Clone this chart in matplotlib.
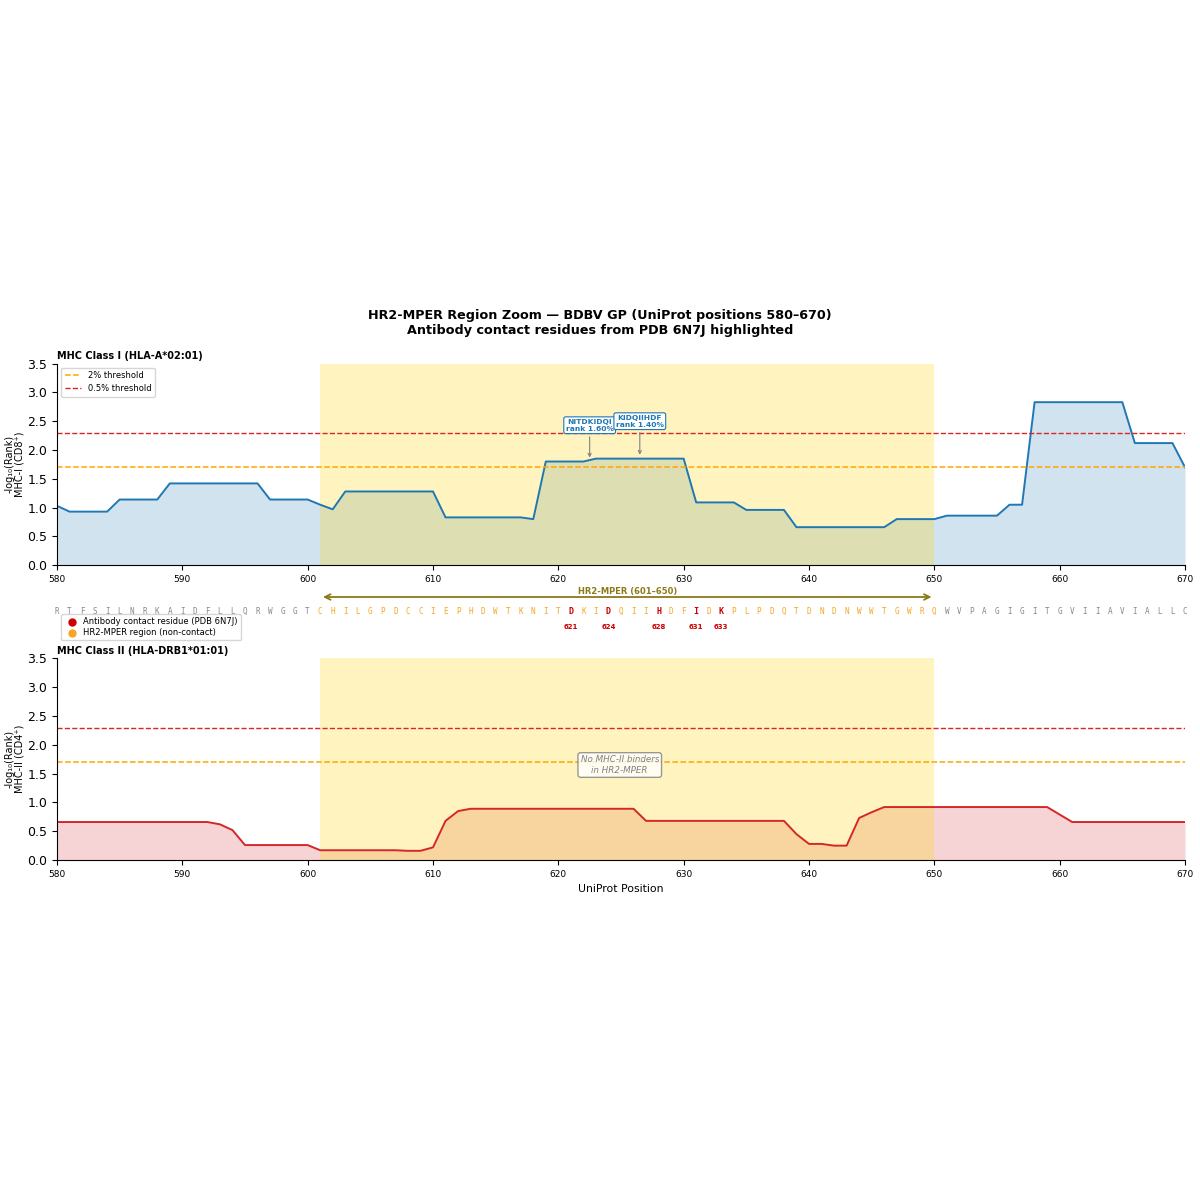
import numpy as np
import matplotlib.pyplot as plt

# positions and sequence
positions = np.arange(580, 671)
sequence = ("RTFSILNRKAIDFLLQRWGGT"
            "CHILGPDCCIEPHDWTKNITDKIDQIIHDFIDKPLPDQTDNDNWWTGWRQ"
            "WVPAGIGITGVIIAVIALLC")
contact_res = [621, 624, 628, 631, 633]
hr2_start, hr2_end = 601, 650

# -log10(rank) per position, MHC-I (HLA-A*02:01)
mhc1 = [1.03, 0.93, 0.93, 0.93, 0.93, 1.14, 1.14, 1.14, 1.14, 1.42,
        1.42, 1.42, 1.42, 1.42, 1.42, 1.42, 1.42, 1.14, 1.14, 1.14,
        1.14, 1.05, 0.97, 1.28, 1.28, 1.28, 1.28, 1.28, 1.28, 1.28,
        1.28, 0.83, 0.83, 0.83, 0.83, 0.83, 0.83, 0.83, 0.80, 1.80,
        1.80, 1.80, 1.80, 1.85, 1.85, 1.85, 1.85, 1.85, 1.85, 1.85,
        1.85, 1.09, 1.09, 1.09, 1.09, 0.96, 0.96, 0.96, 0.96, 0.66,
        0.66, 0.66, 0.66, 0.66, 0.66, 0.66, 0.66, 0.80, 0.80, 0.80,
        0.80, 0.86, 0.86, 0.86, 0.86, 0.86, 1.05, 1.05, 2.83, 2.83,
        2.83, 2.83, 2.83, 2.83, 2.83, 2.83, 2.12, 2.12, 2.12, 2.12,
        1.70]

# -log10(rank) per position, MHC-II (HLA-DRB1*01:01)
mhc2 = [0.66, 0.66, 0.66, 0.66, 0.66, 0.66, 0.66, 0.66, 0.66, 0.66,
        0.66, 0.66, 0.66, 0.62, 0.52, 0.26, 0.26, 0.26, 0.26, 0.26,
        0.26, 0.17, 0.17, 0.17, 0.17, 0.17, 0.17, 0.17, 0.16, 0.16,
        0.22, 0.68, 0.85, 0.89, 0.89, 0.89, 0.89, 0.89, 0.89, 0.89,
        0.89, 0.89, 0.89, 0.89, 0.89, 0.89, 0.89, 0.68, 0.68, 0.68,
        0.68, 0.68, 0.68, 0.68, 0.68, 0.68, 0.68, 0.68, 0.68, 0.45,
        0.28, 0.28, 0.25, 0.25, 0.73, 0.83, 0.92, 0.92, 0.92, 0.92,
        0.92, 0.92, 0.92, 0.92, 0.92, 0.92, 0.92, 0.92, 0.92, 0.92,
        0.79, 0.66, 0.66, 0.66, 0.66, 0.66, 0.66, 0.66, 0.66, 0.66,
        0.66]

# top binders to annotate
peptides = ["NITDKIDQI", "KIDQIIHDF"]
pep_ranks = [1.60, 1.40]
pep_starts = [618, 622]

thr_weak = -np.log10(0.02)
thr_strong = -np.log10(0.005)

fig = plt.figure(figsize=(12, 12), dpi=100)
ax1 = fig.add_axes([0.0475, 0.529, 0.94, 0.168])
axs = fig.add_axes([0.0475, 1 - 650 / 1200, 0.94, 70 / 1200])
ax2 = fig.add_axes([0.0475, 0.2833, 0.94, 0.168])

fig.text(0.5, 0.731, "HR2-MPER Region Zoom \u2014 BDBV GP (UniProt positions 580\u2013670)\n"
         "Antibody contact residues from PDB 6N7J highlighted",
         ha='center', va='center', fontsize=9.2, fontweight='bold')

for ax, vals, col, title, ylab in [
        (ax1, mhc1, '#1f77b4', "MHC Class I (HLA-A*02:01)", "-log\u2081\u2080(Rank)\nMHC-I (CD8\u207a)"),
        (ax2, mhc2, '#d62728', "MHC Class II (HLA-DRB1*01:01)", "-log\u2081\u2080(Rank)\nMHC-II (CD4\u207a)")]:
    ax.fill_between(positions, vals, color=col, alpha=0.2, lw=0)
    ax.axvspan(hr2_start, hr2_end, color='#FFD700', alpha=0.25, lw=0)
    ax.plot(positions, vals, color=col, lw=1.4)
    ax.axhline(thr_weak, color='orange', ls='--', lw=1.1, label='2% threshold')
    ax.axhline(thr_strong, color='#d62728', ls='--', lw=1.0, label='0.5% threshold')
    ax.set_xlim(580, 670)
    ax.set_ylim(0, 3.5)
    ax.set_title(title, loc='left', fontsize=7, fontweight='bold', pad=3)
    ax.set_ylabel(ylab, fontsize=7, labelpad=2, linespacing=1.0)
    ax.tick_params(axis='x', labelsize=6.5)
    ax.tick_params(axis='y', labelsize=9)
    ax.spines['top'].set_visible(False)
    ax.spines['right'].set_visible(False)

ax1.legend(loc='upper left', fontsize=6)
ax2.set_xlabel("UniProt Position", fontsize=7.8)

# peptide annotations
text_y = [2.43, 2.50]
for pep, rk, st, ty in zip(peptides, pep_ranks, pep_starts, text_y):
    cx = st + 4.5
    ax1.annotate(f"{pep}\nrank {rk:.2f}%", xy=(cx, mhc1[st + 4 - 580] + 0.02), xytext=(cx, ty),
                 ha='center', va='center', fontsize=5.4, fontweight='bold', color='#1f77b4',
                 bbox=dict(boxstyle='round,pad=0.25', fc='white', ec='#1f77b4', lw=0.8),
                 arrowprops=dict(arrowstyle='->', color='gray', lw=0.8))

ax2.text(624.9, 1.65, "No MHC-II binders\nin HR2-MPER", ha='center', va='center',
         fontsize=6.3, style='italic', color='gray',
         bbox=dict(boxstyle='round,pad=0.3', fc='white', ec='gray', alpha=0.8))

# sequence strip
axs.set_xlim(580, 670)
axs.set_ylim(0, 1)
axs.axis('off')
axs.annotate("", xy=(hr2_end, 0.757), xytext=(hr2_start, 0.757),
             arrowprops=dict(arrowstyle='<->', color='#8B7A1A', lw=1.3))
axs.text((hr2_start + hr2_end) / 2, 0.83, "HR2-MPER (601\u2013650)", ha='center', va='center',
         fontsize=6, fontweight='bold', color='#8B7A1A')
for pos, aa in zip(positions, sequence):
    if pos in contact_res:
        axs.text(pos, 0.557, aa, ha='center', va='center', fontsize=6, family='monospace',
                 fontweight='bold', color='#cc0000')
        axs.text(pos, 0.33, str(pos), ha='center', va='center', fontsize=5,
                 fontweight='bold', color='#cc0000')
    elif hr2_start <= pos <= hr2_end:
        axs.text(pos, 0.557, aa, ha='center', va='center', fontsize=5.5, family='monospace',
                 color='#F5A623')
    else:
        axs.text(pos, 0.557, aa, ha='center', va='center', fontsize=5.5, family='monospace',
                 color='#888888')
axs.scatter([], [], color='#cc0000', s=25, label='Antibody contact residue (PDB 6N7J)')
axs.scatter([], [], color='#F5A623', s=25, label='HR2-MPER region (non-contact)')
axs.legend(loc='upper left', bbox_to_anchor=(0.0, 0.57), fontsize=6, handletextpad=0.3,
           borderpad=0.35, labelspacing=0.25)

plt.savefig('out.png', dpi=100)
